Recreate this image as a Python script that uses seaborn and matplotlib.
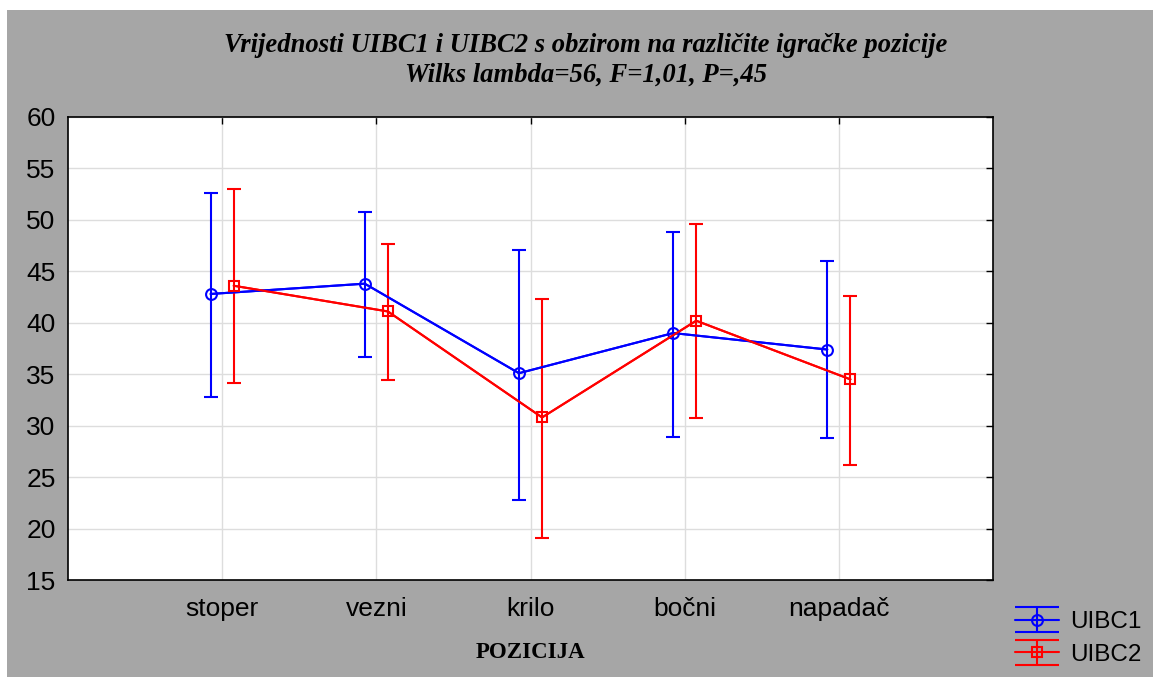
import numpy as np
import pandas as pd
import matplotlib
matplotlib.use('Agg')
import matplotlib.pyplot as plt
from matplotlib.patches import Rectangle
from matplotlib.legend_handler import HandlerErrorbar
import seaborn as sns

# data
pozicije = ['stoper', 'vezni', 'krilo', 'bočni', 'napadač']
uibc1_mean = [42.8, 43.8, 35.1, 39.0, 37.4]
uibc1_low = [32.8, 36.7, 22.8, 28.9, 28.8]
uibc1_high = [52.6, 50.8, 47.1, 48.8, 46.0]
uibc2_mean = [43.6, 41.1, 30.8, 40.2, 34.5]
uibc2_low = [34.1, 34.4, 19.1, 30.7, 26.2]
uibc2_high = [53.0, 47.7, 42.3, 49.6, 42.6]
series = ['UIBC1', 'UIBC2']

sns.set_style('white')
plt.rcParams['font.family'] = ['Liberation Sans', 'DejaVu Sans']
plt.rcParams['text.color'] = 'black'


# legend entry with caps as wide as the handle, like the original
class WideCapHandler(HandlerErrorbar):
    def create_artists(self, legend, orig_handle, xdescent, ydescent,
                       width, height, fontsize, trans):
        arts = super().create_artists(legend, orig_handle, xdescent, ydescent,
                                      width, height, fontsize, trans)
        for a in arts:
            if hasattr(a, 'get_marker') and a.get_marker() == '_':
                a.set_markersize(width)
        return arts


fig = plt.figure(figsize=(11.53, 6.77), dpi=100, facecolor='white')
bg = Rectangle((7 / 1153, 0), 1, 667 / 677, transform=fig.transFigure,
               facecolor='#A6A6A6', edgecolor='none', zorder=-10)
fig.patches.append(bg)
ax = fig.add_axes([68 / 1153, 97 / 677, 925 / 1153, 463 / 677])
ax.set_zorder(1)
ax.set_facecolor('white')

pos = np.arange(1, len(pozicije) + 1)
df = pd.DataFrame({
    'x': np.concatenate([pos - 0.075, pos + 0.075]),
    'y': uibc1_mean + uibc2_mean,
    'low': uibc1_low + uibc2_low,
    'high': uibc1_high + uibc2_high,
    'serija': np.repeat(series, len(pozicije)),
})

colors = {'UIBC1': '#0000FF', 'UIBC2': '#FF0000'}
markers = {'UIBC1': 'o', 'UIBC2': 's'}
lw = 1.5

sns.lineplot(data=df, x='x', y='y', hue='serija', palette=colors, sort=False,
             legend=False, linewidth=lw, ax=ax, zorder=3)

handles = []
for s in series:
    d = df[df.serija == s]
    yerr = [d.y - d.low, d.high - d.y]
    h = ax.errorbar(d.x, d.y, yerr=yerr, fmt=markers[s], color=colors[s],
                    markerfacecolor='none', markeredgewidth=lw, markersize=7.8,
                    elinewidth=lw, capsize=5.3, capthick=lw, linestyle='-',
                    linewidth=lw, label=s, zorder=4)
    handles.append(h)

ax.set_xlim(0, 6)
ax.set_ylim(15, 60)
ax.set_xticks(pos)
ax.set_xticklabels(pozicije)
ax.set_yticks(np.arange(15, 61, 5))
ax.grid(True, color='#DDDDDD', linewidth=1)
ax.set_axisbelow(True)
for sp in ax.spines.values():
    sp.set_color('black')
    sp.set_linewidth(1.2)
    sp.set_visible(True)
ax.tick_params(direction='in', length=5, width=1, top=True, right=True,
               labelsize=19, colors='black', labelcolor='black', pad=9)
ax.tick_params(axis='x', pad=12)
ax.set_xlabel('')
ax.set_ylabel('')

serif = ['Liberation Serif', 'DejaVu Serif']
fig.text(586 / 1153, 1 - 45 / 677, 'Vrijednosti UIBC1 i UIBC2 s obzirom na različite igračke pozicije',
         ha='center', va='center', fontsize=19.2, fontweight='bold', fontstyle='italic',
         family=serif, color='black')
fig.text(586 / 1153, 1 - 75 / 677, 'Wilks lambda=56, F=1,01, P=,45',
         ha='center', va='center', fontsize=19.2, fontweight='bold', fontstyle='italic',
         family=serif, color='black')
fig.text(530 / 1153, 1 - 652 / 677, 'POZICIJA', ha='center', va='center', fontsize=16.5,
         fontweight='bold', family=serif, color='black')

fig.legend(handles=handles, labels=series, loc='upper left',
           bbox_to_anchor=(1015 / 1153, 1 - 611 / 677), frameon=False,
           fontsize=17.5, handlelength=1.8, handletextpad=0.45, labelspacing=0.45,
           borderaxespad=0, borderpad=0,
           handler_map={type(handles[0]): WideCapHandler()})

fig.savefig('out.png', dpi=100, facecolor='white')
